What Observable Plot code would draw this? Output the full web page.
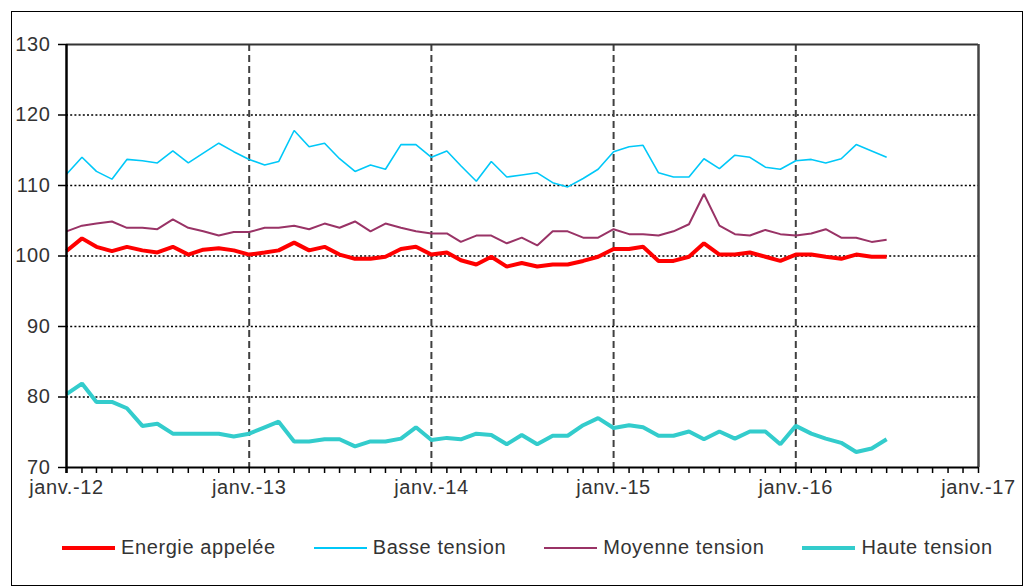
<!DOCTYPE html>
<html>
<head>
<meta charset="utf-8">
<script src="https://cdn.jsdelivr.net/npm/d3@7"></script>
<script src="https://cdn.jsdelivr.net/npm/@observablehq/plot@0.6"></script>
<style>
  html, body { margin: 0; padding: 0; background: #fff; }
  body { width: 1026px; height: 588px; position: relative; overflow: hidden;
         font-family: "Liberation Sans", Arial, sans-serif; }
  #frame { position: absolute; left: 11px; top: 11px; width: 1012px; height: 575px;
           border: 1.5px solid #000; box-sizing: border-box; }
  #chart { position: absolute; left: 0; top: 0; }
  #legend { position: absolute; left: 62px; top: 536px; display: flex; gap: 38px;
            align-items: center; font-size: 20px; letter-spacing: 0.6px; color: #333; }
  .item { display: flex; align-items: center; gap: 6px; }
  .sw { width: 53px; height: 0; }
</style>
</head>
<body>
<div id="frame"></div>
<div id="chart"></div>
<div id="legend"></div>
<script>
const startMonth = "2012-01-01";
const seriesNames = ["Energie appelée", "Basse tension", "Moyenne tension", "Haute tension"];
const seriesColors = ["#ff0000", "#00c8f8", "#993366", "#33cccc"];
const seriesWidths = [4, 1.6, 2, 4];

const energie = [100.7,102.5,101.3,100.7,101.3,100.8,100.5,101.3,100.2,100.9,101.1,100.8,100.2,
  100.5,100.8,101.9,100.8,101.3,100.2,99.6,99.6,99.9,101.0,101.3,100.2,
  100.5,99.4,98.8,99.9,98.5,99.0,98.5,98.8,98.8,99.3,99.9,101.0,
  101.0,101.3,99.3,99.3,99.9,101.8,100.2,100.2,100.5,99.9,99.3,100.2,
  100.2,99.9,99.6,100.2,99.9,99.9];
const basse = [111.6,114.0,112.0,110.9,113.7,113.5,113.2,114.9,113.2,114.6,116.0,114.8,113.7,
  112.9,113.4,117.8,115.5,116.0,113.8,112.0,112.9,112.3,115.8,115.8,114.0,
  114.9,112.8,110.6,113.4,111.2,111.5,111.8,110.4,109.8,111.0,112.3,114.8,
  115.5,115.7,111.8,111.2,111.2,113.8,112.4,114.3,114.0,112.6,112.3,113.5,
  113.7,113.2,113.8,115.8,114.9,114.0];
const moyenne = [103.5,104.3,104.6,104.9,104.0,104.0,103.8,105.2,104.0,103.5,102.9,103.4,103.4,
  104.0,104.0,104.3,103.8,104.6,104.0,104.9,103.5,104.6,104.0,103.5,103.2,
  103.2,102.0,102.9,102.9,101.8,102.6,101.5,103.5,103.5,102.6,102.6,103.8,
  103.1,103.1,102.9,103.5,104.5,108.8,104.3,103.1,102.9,103.7,103.1,102.9,
  103.2,103.8,102.6,102.6,102.0,102.3];
const haute = [80.4,81.9,79.3,79.3,78.4,75.9,76.2,74.8,74.8,74.8,74.8,74.4,74.8,
  75.7,76.5,73.7,73.7,74.0,74.0,73.0,73.7,73.7,74.1,75.7,73.9,
  74.2,74.0,74.8,74.6,73.3,74.6,73.3,74.5,74.5,76.0,77.0,75.6,
  76.0,75.7,74.5,74.5,75.1,74.0,75.1,74.1,75.1,75.1,73.3,75.9,
  74.8,74.1,73.5,72.2,72.7,74.0];
const yTicks = [70, 80, 90, 100, 110, 120, 130];
const yearTicks = ["2012","2013","2014","2015","2016","2017"];

const allSeries = [energie, basse, moyenne, haute];
const start = new Date(startMonth + "T00:00:00Z");
const monthDate = i => d3.utcMonth.offset(start, i);
const rows = allSeries.flatMap((vals, s) =>
  vals.map((v, i) => ({series: seriesNames[s], date: monthDate(i), value: v})));

const years = yearTicks.map(y => new Date(y + "-01-01T00:00:00Z"));
const xDomain = [years[0], years[years.length - 1]];
const months = d3.utcMonths(xDomain[0], d3.utcMonth.offset(xDomain[1], 1));

const chart = Plot.plot({
  width: 1026,
  height: 500,
  marginLeft: 66,
  marginRight: 48,
  marginTop: 44,
  marginBottom: 33,
  style: {fontFamily: '"Liberation Sans", Arial, sans-serif', fontSize: "20px", letterSpacing: "0.6px", color: "#333", background: "transparent", overflow: "visible"},
  x: {type: "utc", domain: xDomain},
  y: {domain: [70, 130]},
  marks: [
    Plot.ruleY(yTicks.slice(1, -1), {stroke: "#000", strokeWidth: 1.5, strokeDasharray: "2,2.2"}),
    Plot.ruleX(years.slice(1, -1), {stroke: "#404040", strokeWidth: 2, strokeDasharray: "7,4"}),
    Plot.ruleY([130], {stroke: "#333", strokeWidth: 2}),
    Plot.ruleX([xDomain[1]], {stroke: "#444", strokeWidth: 2.5}),
    ...seriesNames.map((name, s) =>
      Plot.line(rows.filter(d => d.series === name), {
        x: "date", y: "value", stroke: seriesColors[s], strokeWidth: seriesWidths[s],
        strokeLinejoin: "miter", strokeLinecap: "butt"
      })),
    Plot.axisY({ticks: yTicks, tickSize: 8, tickPadding: 8, stroke: "#000", strokeWidth: 1.5, fill: "#333", tickFormat: d => d, label: null}),
    Plot.axisX({ticks: months, tickSize: 6, tickFormat: () => "", stroke: "#000", strokeWidth: 1.5, label: null}),
    Plot.axisX({ticks: years, tickSize: 0, tickPadding: 12, fill: "#333", label: null,
      tickFormat: d => "janv.-" + String(d.getUTCFullYear()).slice(2)}),
    Plot.ruleX([xDomain[0]], {stroke: "#000", strokeWidth: 2.5, y1: 130, y2: 70, insetBottom: -6}),
    Plot.ruleY([70], {stroke: "#000", strokeWidth: 2})
  ]
});
document.getElementById("chart").appendChild(chart);

const legend = d3.select("#legend");
seriesNames.forEach((name, s) => {
  const item = legend.append("div").attr("class", "item");
  item.append("div").attr("class", "sw")
    .style("border-top", `${seriesWidths[s] + (s === 1 ? 0.4 : 0)}px solid ${seriesColors[s]}`);
  item.append("span").text(name);
});
</script>
</body>
</html>
